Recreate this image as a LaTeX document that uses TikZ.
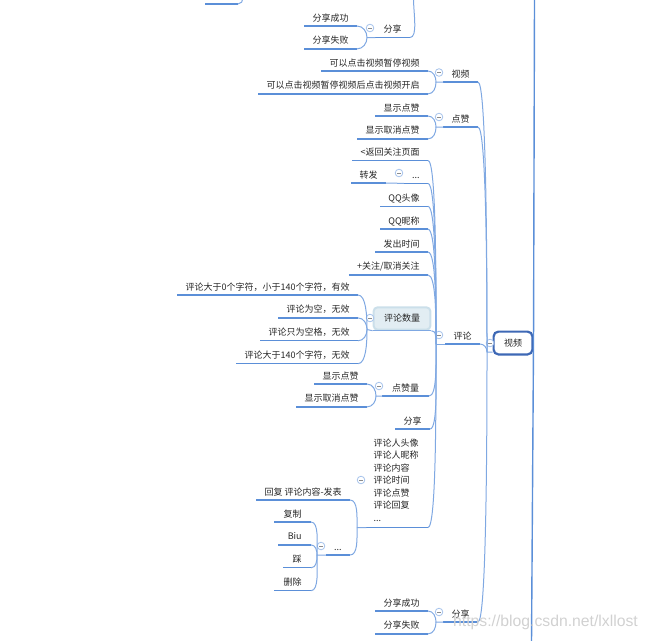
\documentclass[tikz,border=0pt]{standalone}
\usepackage{fontspec}
\newfontfamily\cjk{Noto Sans CJK SC}
\newfontfamily\wmark{Liberation Sans}
\usetikzlibrary{positioning}
\definecolor{linedark}{HTML}{5B8FD8}
\definecolor{linesoft}{HTML}{7FA8E2}
\definecolor{rootedge}{HTML}{3E68B5}
\definecolor{countfill}{HTML}{E2EDF3}
\definecolor{countedge}{HTML}{CBDFEA}
\tikzstyle{uline} = [draw=linedark, line width=0.035cm]
\tikzstyle{label} = [font=\cjk\fontsize{6.4pt}{8.9pt}\selectfont, text=black!85, inner xsep=0.2cm, inner ysep=0pt]
\tikzstyle{topic} = [label, minimum height=0.425cm, text height=0.22cm, text depth=0.03cm, anchor=south east,
    append after command={(\tikzlastnode.south west) edge [uline] (\tikzlastnode.south east)}]
\tikzstyle{under} = [below=0.133cm of #1.south east, anchor=north east]
\tikzstyle{branch} = [draw=linesoft, line width=0.025cm, out=0, out max distance=0.2cm]
\tikzstyle{stem} = [draw=linesoft, line width=0.025cm]
\tikzstyle{fold} = [circle, draw=linesoft!70, fill=white, line width=0.02cm, minimum size=0.19cm, inner sep=0pt,
    path picture={\draw [black!45, line width=0.015cm] ([xshift=0.05cm]path picture bounding box.west) -- ([xshift=-0.05cm]path picture bounding box.east);}]

\begin{document}
\begin{tikzpicture}[x=0.025cm, y=-0.025cm]
    \clip (0,0) rectangle (648,640);

    % Root and its rail
    \node [label, draw=rootedge, rounded corners=0.12cm, line width=0.055cm, minimum width=0.97cm, minimum height=0.57cm] (root) at (513,343) {视频};
    \coordinate (railtop) at (534.5,-2);
    \coordinate (railbottom) at (531.5,642);
    \draw [uline] (root.east) -- (railtop);
    \draw [uline] (root.east) -- (railbottom);
    \coordinate (joinroot) at (487,352);
    \node [fold] (foldroot) at (490,343) {};

    % Upper share branch
    \node [topic, minimum width=0.8cm] (stub) at (238,4) {};
    \coordinate (stubend) at (243,-2);
    \node [topic] (shareok) at (357,26) {分享成功};
    \node [topic, under=shareok] (sharefail) {分享失败};
    \node [topic] (share) at (410,37.5) {分享};
    \coordinate (joinshare) at (367,37.5);
    \coordinate (shareend) at (413.5,-2);
    \node [fold] (foldshare) at (370,28) {};
    \draw [branch] (stub.south east) to [in=-90] (stubend);
    \draw [branch] (shareok.south east) to [in=90] (joinshare) -- (share.south west);
    \draw [branch] (sharefail.south east) to [in=-90] (joinshare);
    \draw [branch] (share.south east) to [in=-90] (shareend);

    % Video branch
    \node [topic] (playa) at (428,71) {可以点击视频暂停视频};
    \node [topic, under=playa] (playb) {可以点击视频暂停视频后点击视频开启};
    \node [topic] (video) at (478,82) {视频};
    \coordinate (joinvideo) at (436,82);
    \node [fold] (foldvideo) at (439,72.5) {};
    \draw [branch] (playa.south east) to [in=90] (joinvideo) -- (video.south west);
    \draw [branch] (playb.south east) to [in=-90] (joinvideo);

    % Like branch
    \node [topic] (likea) at (428,116) {显示点赞};
    \node [topic, under=likea] (likeb) {显示取消点赞};
    \node [topic] (like) at (478,127) {点赞};
    \coordinate (joinlike) at (436,127);
    \node [fold] (foldlike) at (439,117) {};
    \draw [branch] (likea.south east) to [in=90] (joinlike) -- (like.south west);
    \draw [branch] (likeb.south east) to [in=-90] (joinlike);

    % Comment column
    \node [topic] (comment) at (480,344) {评论};
    \coordinate (joincomment) at (436,344);
    \node [fold] (foldcomment) at (439,335) {};
    \node [topic] (back) at (428,160.5) {<返回关注页面};
    \node [topic, under=back, minimum width=0.58cm] (dots) {...};
    \node [topic] (forward) at (386,183) {转发};
    \node [fold] (foldforward) at (399,173) {};
    \node [topic, under=dots] (qqhead) {QQ头像};
    \node [topic, under=qqhead] (qqname) {QQ昵称};
    \node [topic, under=qqname] (sendtime) {发出时间};
    \node [topic, under=sendtime] (follow) {+关注/取消关注};
    \draw [stem] (forward.south east) -- (dots.south west);

    % Comment count
    \node [label, draw=countedge, fill=countfill, rounded corners=0.1cm, line width=0.05cm, minimum width=1.42cm, minimum height=0.56cm] (count) at (402,318.5) {评论数量};
    \coordinate (joincount) at (367,329.5);
    \node [topic] (counta) at (358,295) {评论大于0个字符，小于140个字符，有效};
    \node [topic, under=counta] (countb) {评论为空，无效};
    \node [topic, under=countb] (countc) {评论只为空格，无效};
    \node [topic, under=countc] (countd) {评论大于140个字符，无效};
    \node [fold] (foldcount) at (370,318) {};
    \draw [branch] (counta.south east) to [in=90] (joincount) -- (count.south west);
    \draw [branch] (countb.south east) to [in=90] (joincount);
    \draw [branch] (countc.south east) to [in=-90] (joincount);
    \draw [branch] (countd.south east) to [in=-90] (joincount);
    \draw [stem] (count.south west) -- (count.south east);

    % Like count
    \node [topic, minimum width=1.15cm] (likes) at (429,396) {点赞量};
    \node [topic] (likesa) at (367,384) {显示点赞};
    \node [topic, under=likesa] (likesb) {显示取消点赞};
    \coordinate (joinlikes) at (376,396);
    \node [fold] (foldlikes) at (379,386) {};
    \draw [branch] (likesa.south east) to [in=90] (joinlikes) -- (likes.south west);
    \draw [branch] (likesb.south east) to [in=-90] (joinlikes);

    \node [topic] (sharemid) at (430,429) {分享};

    % Comment list with its replies
    \node [label, text width=1.175cm, align=left, inner xsep=0.175cm, minimum width=1.525cm, minimum height=2.35cm, anchor=south east,
        append after command={(\tikzlastnode.south west) edge [uline] (\tikzlastnode.south east)}] (list) at (428,527.5)
        {评论人头像\\评论人昵称\\评论内容\\评论时间\\评论点赞\\评论回复\\...};
    \node [fold] (foldlist) at (361,480) {};
    \node [topic] (reply) at (350,500) {回复 评论内容-发表};
    \node [topic, minimum width=0.58cm] (more) at (350,555) {...};
    \coordinate (joinlist) at (357,527.5);
    \draw [branch] (reply.south east) to [in=90] (joinlist) -- (list.south west);
    \draw [branch] (more.south east) to [in=-90] (joinlist);

    \node [topic, minimum width=0.9cm] (copytext) at (311,522) {复制};
    \node [topic, under=copytext, minimum width=0.8cm] (biu) {Biu};
    \node [topic, under=biu, minimum width=0.675cm] (tread) {踩};
    \node [topic, under=tread, minimum width=0.9cm] (delete) {删除};
    \coordinate (joinmore) at (317,555);
    \node [fold] (foldmore) at (321,546) {};
    \draw [branch] (copytext.south east) to [in=90] (joinmore) -- (more.south west);
    \draw [branch] (biu.south east) to [in=90] (joinmore);
    \draw [branch] (tread.south east) to [in=-90] (joinmore);
    \draw [branch] (delete.south east) to [in=-90] (joinmore);

    % Into the comment topic
    \draw [branch] (comment.south west) -- (joincomment);
    \foreach \child in {back, dots, qqhead, qqname, sendtime, follow, count}
        \draw [branch] (\child.south east) to [in=90] (joincomment);
    \foreach \child in {likes, sharemid, list}
        \draw [branch] (\child.south east) to [in=-90] (joincomment);

    % Lower share branch
    \node [topic] (sharec) at (428,611) {分享成功};
    \node [topic, under=sharec] (shared) {分享失败};
    \node [topic] (sharelow) at (478,622) {分享};
    \coordinate (joinlow) at (436,622);
    \node [fold] (foldlow) at (439,612) {};
    \draw [branch] (sharec.south east) to [in=90] (joinlow) -- (sharelow.south west);
    \draw [branch] (shared.south east) to [in=-90] (joinlow);

    % Into the root
    \draw [branch] (video.south east) to [in=90] (joinroot) -- (root.west |- joinroot);
    \draw [branch] (like.south east) to [in=90] (joinroot);
    \draw [branch] (comment.south east) to [in=90] (joinroot);
    \draw [branch] (sharelow.south east) to [in=-90] (joinroot);

    \node [font=\wmark\fontsize{11.2pt}{13pt}\selectfont, text=black!18, inner sep=0pt] (watermark) at (545.5,622) {https://blog.csdn.net/lxllost};
\end{tikzpicture}
\end{document}
